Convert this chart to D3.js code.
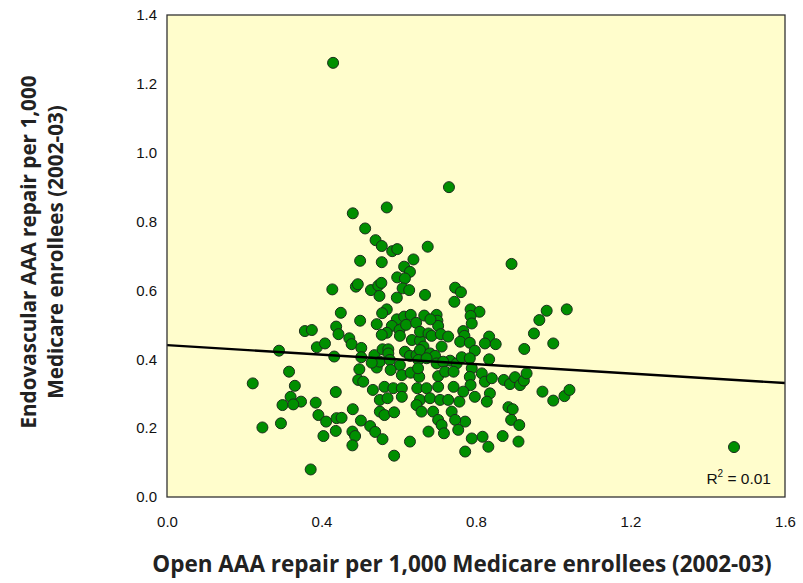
<!DOCTYPE html>
<html>
<head>
<meta charset="utf-8">
<script src="https://cdn.jsdelivr.net/npm/d3@7"></script>
<style>
  html, body { margin: 0; padding: 0; background: #ffffff; }
  svg { display: block; }
</style>
</head>
<body>
<div id="chart"></div>
<script>
// Open AAA repair per 1,000 enrollees (x) and endovascular AAA repair per 1,000 (y)
const openRepair = [
  0.430,0.730,0.481,0.569,0.513,0.540,0.556,0.583,0.596,0.675,
  0.500,0.556,0.614,0.629,0.638,0.596,0.616,0.892,0.428,0.489,
  0.494,0.528,0.547,0.555,0.550,0.595,0.610,0.627,0.668,0.746,
  0.761,0.744,0.786,0.809,0.786,0.789,0.450,0.500,0.543,0.569,
  0.557,0.595,0.614,0.631,0.582,0.602,0.619,0.645,0.666,0.698,
  0.700,0.702,0.682,0.357,0.375,0.438,0.444,0.472,0.478,0.569,
  0.556,0.603,0.634,0.655,0.655,0.677,0.685,0.709,0.728,0.767,
  0.770,0.834,0.950,0.964,0.983,1.035,1.000,0.925,0.823,0.851,
  0.759,0.784,0.797,0.834,0.711,0.664,0.388,0.409,0.290,0.433,
  0.503,0.503,0.537,0.558,0.573,0.543,0.551,0.616,0.629,0.530,
  0.573,0.577,0.603,0.646,0.498,0.495,0.508,0.533,0.563,0.586,
  0.579,0.551,0.571,0.316,0.222,0.331,0.437,0.320,0.347,0.299,
  0.327,0.385,0.481,0.392,0.412,0.439,0.452,0.502,0.526,0.539,
  0.551,0.563,0.588,0.247,0.295,0.437,0.405,0.480,0.487,0.480,
  0.558,0.588,0.372,0.655,0.681,0.694,0.651,0.672,0.698,0.733,
  0.750,0.763,0.784,0.789,0.715,0.608,0.631,0.653,0.702,0.720,
  0.742,0.784,0.786,0.815,0.823,0.841,0.836,0.828,0.797,0.872,
  0.888,0.901,0.914,0.924,0.931,0.972,1.000,1.029,1.042,0.608,
  0.608,0.648,0.672,0.655,0.681,0.707,0.728,0.742,0.767,0.757,
  0.646,0.659,0.689,0.737,0.772,0.746,0.754,0.702,0.711,0.677,
  0.717,0.884,0.895,0.891,0.912,0.869,0.910,0.817,0.832,0.789,
  0.772,0.629,1.468,0.702,0.650
];
const endoRepair = [
  1.261,0.900,0.824,0.841,0.780,0.746,0.729,0.714,0.720,0.727,
  0.686,0.682,0.669,0.654,0.690,0.638,0.635,0.677,0.603,0.611,
  0.618,0.601,0.614,0.622,0.584,0.579,0.606,0.601,0.587,0.608,
  0.595,0.567,0.545,0.538,0.526,0.504,0.535,0.512,0.502,0.545,
  0.534,0.516,0.524,0.529,0.497,0.485,0.500,0.506,0.527,0.529,
  0.512,0.497,0.516,0.482,0.485,0.495,0.473,0.461,0.444,0.477,
  0.471,0.468,0.456,0.454,0.480,0.475,0.468,0.473,0.466,0.482,
  0.468,0.466,0.475,0.514,0.541,0.545,0.446,0.430,0.446,0.444,
  0.451,0.448,0.425,0.400,0.437,0.437,0.435,0.446,0.425,0.408,
  0.433,0.406,0.412,0.429,0.429,0.376,0.393,0.422,0.410,0.390,
  0.417,0.398,0.383,0.412,0.371,0.340,0.335,0.311,0.320,0.316,
  0.369,0.282,0.287,0.364,0.330,0.323,0.305,0.291,0.277,0.267,
  0.269,0.274,0.255,0.238,0.219,0.229,0.230,0.222,0.206,0.189,
  0.248,0.238,0.246,0.202,0.214,0.192,0.177,0.190,0.177,0.150,
  0.168,0.120,0.080,0.427,0.417,0.410,0.398,0.403,0.388,0.396,
  0.388,0.406,0.403,0.374,0.393,0.354,0.361,0.349,0.351,0.364,
  0.364,0.349,0.325,0.359,0.335,0.345,0.301,0.277,0.291,0.340,
  0.328,0.348,0.325,0.338,0.359,0.306,0.280,0.293,0.311,0.316,
  0.291,0.316,0.316,0.282,0.287,0.282,0.282,0.320,0.306,0.277,
  0.267,0.248,0.248,0.248,0.219,0.224,0.195,0.224,0.209,0.190,
  0.185,0.261,0.255,0.224,0.209,0.177,0.161,0.175,0.146,0.170,
  0.132,0.161,0.145,0.320,0.374
];
const xTicks = [0.0, 0.4, 0.8, 1.2, 1.6];
const yTicks = [0.0, 0.2, 0.4, 0.6, 0.8, 1.0, 1.2, 1.4];
// Fitted trend line end values (at x = 0 and x = 1.6)
const trendX = [0.0, 1.6];
const trendY = [0.441, 0.331];
const rSquaredLabel = "0.01";
const xTitle = "Open AAA repair per 1,000 Medicare enrollees (2002-03)";
const yTitleLines = ["Endovascular AAA repair per 1,000", "Medicare enrollees (2002-03)"];

const W = 803, H = 583;
const plot = { left: 167, right: 785, top: 15, bottom: 497 };

const svg = d3.select("#chart").append("svg").attr("width", W).attr("height", H);

const x = d3.scaleLinear().domain([0, 1.6]).range([plot.left, plot.right]);
const y = d3.scaleLinear().domain([0, 1.4]).range([plot.bottom, plot.top]);

// background
svg.append("rect")
  .attr("x", plot.left).attr("y", plot.top)
  .attr("width", plot.right - plot.left).attr("height", plot.bottom - plot.top)
  .attr("fill", "#fffdcc");

svg.append("clipPath").attr("id", "clip").append("rect")
  .attr("x", plot.left).attr("y", plot.top)
  .attr("width", plot.right - plot.left).attr("height", plot.bottom - plot.top);

// points
const pts = openRepair.map((v, i) => ({ x: v, y: endoRepair[i] }));
svg.append("g").attr("clip-path", "url(#clip)")
  .selectAll("circle").data(pts).join("circle")
  .attr("cx", d => x(d.x)).attr("cy", d => y(d.y)).attr("r", 5.5)
  .attr("fill", "#008f00").attr("stroke", "#1c2e1c").attr("stroke-width", 1);

// trend line
svg.append("line")
  .attr("x1", x(trendX[0])).attr("y1", y(trendY[0]))
  .attr("x2", x(trendX[1])).attr("y2", y(trendY[1]))
  .attr("stroke", "#000").attr("stroke-width", 2.4);

// frame
svg.append("rect")
  .attr("x", plot.left).attr("y", plot.top)
  .attr("width", plot.right - plot.left).attr("height", plot.bottom - plot.top)
  .attr("fill", "none").attr("stroke", "#333").attr("stroke-width", 1.3);

const tickFont = "'Liberation Sans', Arial, Helvetica, sans-serif";

// axes (labels only)
const xAxis = d3.axisBottom(x).tickValues(xTicks).tickFormat(d3.format(".1f")).tickSize(0).tickPadding(19);
const gx = svg.append("g").attr("transform", `translate(0,${plot.bottom})`).call(xAxis);
gx.select(".domain").remove();
gx.selectAll("text").attr("font-family", tickFont).attr("font-size", 15).attr("fill", "#111");

const yAxis = d3.axisLeft(y).tickValues(yTicks).tickFormat(d3.format(".1f")).tickSize(0).tickPadding(10);
const gy = svg.append("g").attr("transform", `translate(${plot.left},0)`).call(yAxis);
gy.select(".domain").remove();
gy.selectAll("text").attr("font-family", tickFont).attr("font-size", 15).attr("fill", "#111");

// R squared
const rt = svg.append("text")
  .attr("x", 771).attr("y", 484).attr("text-anchor", "end")
  .attr("font-family", tickFont).attr("font-size", 15.5).attr("fill", "#111");
rt.append("tspan").text("R");
rt.append("tspan").attr("dy", -7).attr("font-size", 10).text("2");
rt.append("tspan").attr("dy", 7).text(" = " + rSquaredLabel);

// axis titles
svg.append("text")
  .attr("x", 462).attr("y", 572)
  .attr("text-anchor", "middle")
  .attr("font-family", "'Open Sans', sans-serif").attr("font-weight", 700).attr("font-size", 22.5)
  .attr("fill", "#222").text(xTitle);

const yt = svg.append("text")
  .attr("transform", "translate(0,252) rotate(-90)")
  .attr("text-anchor", "middle")
  .attr("font-family", "'Open Sans', sans-serif").attr("font-weight", 700).attr("font-size", 20.7)
  .attr("fill", "#222");
yt.append("tspan").attr("x", 0).attr("y", 36).text(yTitleLines[0]);
yt.append("tspan").attr("x", 0).attr("y", 63).text(yTitleLines[1]);
</script>
</body>
</html>
